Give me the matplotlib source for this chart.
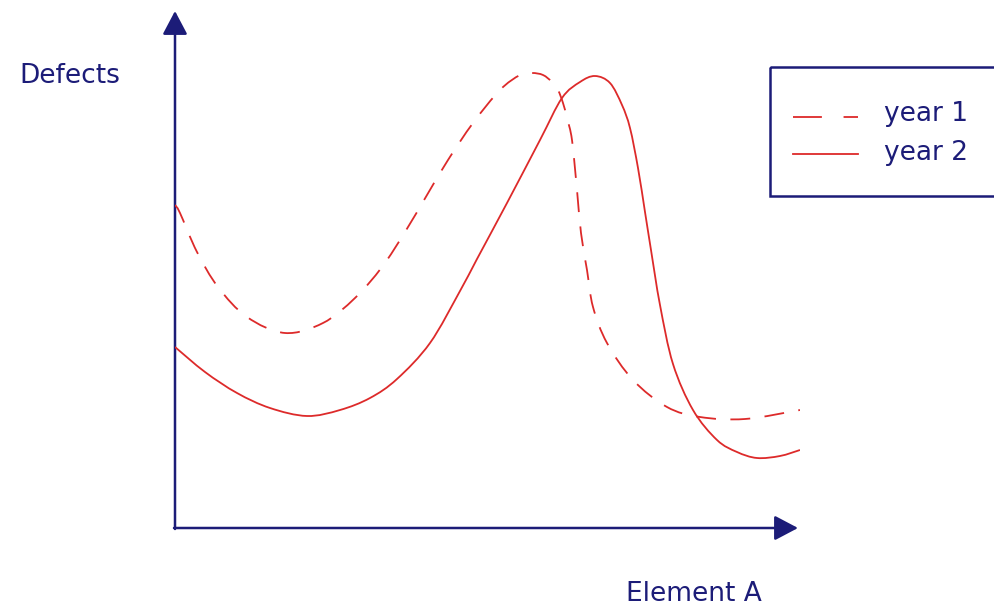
import numpy as np
from matplotlib import pyplot as plt
from matplotlib.patches import Rectangle, PathPatch
from matplotlib.lines import Line2D
from matplotlib.path import Path

# values (x: Element A, y: Defects, arbitrary units)
year1_x = [0, 0.8, 3.52, 6.88, 11.52, 17.6, 23.68, 28.8, 33.12, 36.8, 40.32,
           43.68, 47.68, 52.0, 55.2, 57.12, 58.88, 60.32, 61.28, 62.08, 62.72,
           63.52, 64.32, 64.96, 65.92, 66.88, 69.12, 73.28, 78.72, 84.0, 91.2,
           100]
year1_y = [64.6, 63.0, 55.2, 48.2, 42.2, 39.0, 41.0, 46.0, 52.2, 59.2, 66.6,
           73.6, 81.0, 87.6, 90.6, 91.0, 90.6, 89.2, 87.6, 85.0, 82.0,
           77.6, 67.6, 59.0, 51.6, 44.2, 37.0, 29.6, 24.2, 22.2, 21.8,
           23.6]

year2_x = [0, 4.8, 9.92, 15.2, 21.12, 26.4, 31.2, 35.52, 40.8, 45.6, 48.32,
           53.12, 58.4, 61.92, 64.8, 67.2, 69.6, 71.52, 72.8, 74.08, 75.2,
           76.16, 77.6, 79.68, 82.88, 86.72, 89.92, 93.12, 96.8, 100]
year2_y = [36.2, 31.2, 27.0, 24.0, 22.4, 23.6, 26.0, 29.8, 37.0, 47.4, 53.8,
           65.0, 77.6, 86.0, 89.2, 90.4, 89.0, 84.6, 80.0, 72.0, 63.2,
           55.6, 44.6, 32.8, 23.6, 17.6, 15.2, 14.0, 14.4, 15.6]

series_labels = ['year 1', 'year 2']
x_label = 'Element A'
y_label = 'Defects'

NAVY = '#1c1c78'
RED = '#dd2a2a'
W, H = 995, 610


def smooth_path(xs, ys):
    # cubic bezier path through the points (catmull-rom tangents)
    p = np.column_stack([xs, ys]).astype(float)
    n = len(p)
    verts = [p[0]]
    codes = [Path.MOVETO]
    for i in range(n - 1):
        p0 = p[i - 1] if i > 0 else p[i]
        p3 = p[i + 2] if i + 2 < n else p[i + 1]
        c1 = p[i] + (p[i + 1] - p0) / 6
        c2 = p[i + 1] - (p3 - p[i]) / 6
        verts += [c1, c2, p[i + 1]]
        codes += [Path.CURVE4] * 3
    return Path(verts, codes)


fig = plt.figure(figsize=(W / 100, H / 100), dpi=100)
fig.patch.set_facecolor('white')

# overlay in pixel coordinates for axis arrows, labels and legend box
over = fig.add_axes([0, 0, 1, 1])
over.set_xlim(0, W)
over.set_ylim(H, 0)
over.axis('off')

# data axes: x 0..100 over px 175..800, y 0..103.2 over px 528..12
ax = fig.add_axes([175 / W, (H - 528) / H, 625 / W, 516 / H])
ax.set_xlim(0, 100)
ax.set_ylim(0, 103.2)
ax.axis('off')
ax.patch.set_alpha(0)

ax.add_patch(PathPatch(smooth_path(year1_x, year1_y), fill=False,
                       edgecolor=RED, lw=1.3, linestyle=(0, (11, 8)),
                       capstyle='butt'))
ax.add_patch(PathPatch(smooth_path(year2_x, year2_y), fill=False,
                       edgecolor=RED, lw=1.3))

arrow = dict(arrowstyle='-|>,head_length=0.72,head_width=0.38', color=NAVY,
             lw=1.8, shrinkA=0, shrinkB=0, mutation_scale=20)
over.annotate('', xy=(175, 11), xytext=(175, 529), arrowprops=arrow)
over.annotate('', xy=(798, 528), xytext=(174, 528), arrowprops=arrow)

over.text(70, 76, y_label, color=NAVY, fontsize=19, ha='center', va='center',
          family='DejaVu Sans')
over.text(694, 594, x_label, color=NAVY, fontsize=19, ha='center', va='center',
          family='DejaVu Sans')

# legend box
over.add_patch(Rectangle((770, 67), 240, 129, fill=False, edgecolor=NAVY,
                         lw=1.8, clip_on=False))
over.add_line(Line2D([793, 858], [117, 117], color=RED, lw=1.3,
                     linestyle=(0, (16, 12))))
over.add_line(Line2D([793, 858], [154, 154], color=RED, lw=1.3))
over.text(884, 114, series_labels[0], color=NAVY, fontsize=19, va='center')
over.text(884, 153, series_labels[1], color=NAVY, fontsize=19, va='center')

fig.savefig('out.png', dpi=100)
